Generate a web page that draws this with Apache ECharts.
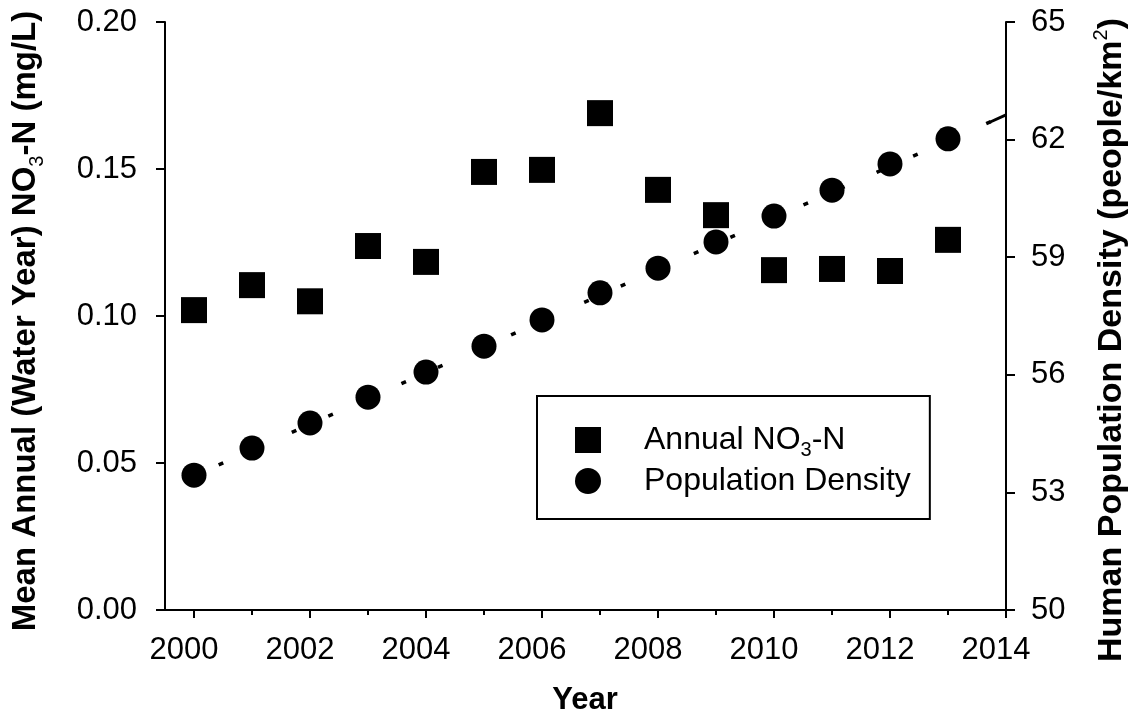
<!DOCTYPE html>
<html>
<head>
<meta charset="utf-8">
<script src="https://cdn.jsdelivr.net/npm/echarts@6/dist/echarts.min.js"></script>
<style>
  html, body { margin: 0; padding: 0; background: #fff; }
  #chart { width: 1132px; height: 725px; }
</style>
</head>
<body>
<div id="chart"></div>
<script>
// ---- Data ----
var years = [2000, 2001, 2002, 2003, 2004, 2005, 2006, 2007, 2008, 2009, 2010, 2011, 2012, 2013];
var no3Values = [0.102, 0.1105, 0.105, 0.1238, 0.1184, 0.149, 0.1497, 0.169, 0.1429, 0.1343, 0.1156, 0.116, 0.1153, 0.1259];
var popValues = [53.44, 54.13, 54.77, 55.43, 56.07, 56.73, 57.40, 58.09, 58.72, 59.39, 60.05, 60.71, 61.38, 62.02];
var trendYears = [2000, 2014];
var trendValues = [53.42, 62.63];
var trendTailYears = [2013.7, 2014];
var trendTailValues = [62.43, 62.63];
var xMajorTicks = [2000, 2002, 2004, 2006, 2008, 2010, 2012, 2014];
var xMinorTicks = [2001, 2003, 2005, 2007, 2009, 2011, 2013];
var leftTicks = [0, 0.05, 0.10, 0.15, 0.20];
var rightTicks = [50, 53, 56, 59, 62, 65];

function zip(a, b) { return a.map(function (v, i) { return [v, b[i]]; }); }

var FONT = "'Liberation Sans', Arial, Helvetica, sans-serif";
var chart = echarts.init(document.getElementById('chart'), null, { renderer: 'canvas' });

var axisLineStyle = { color: '#000', width: 2 };

var option = {
  backgroundColor: '#fff',
  animation: false,
  grid: { left: 165, right: 126, top: 22, bottom: 115, containLabel: false },
  xAxis: [
    {
      type: 'value', min: 1999.5, max: 2014, position: 'bottom',
      axisLine: { show: true, onZero: false, lineStyle: axisLineStyle },
      axisTick: { show: true, length: 8, customValues: xMajorTicks, lineStyle: axisLineStyle },
      axisLabel: { show: true, customValues: xMajorTicks, color: '#000', fontSize: 31, fontFamily: FONT, margin: 25,
        padding: [0, 20, 0, 0],
        formatter: function (v) { return String(Math.round(v)); } },
      splitLine: { show: false }
    },
    {
      type: 'value', min: 1999.5, max: 2014, position: 'bottom',
      axisLine: { show: false, onZero: false },
      axisTick: { show: true, length: 5, customValues: xMinorTicks, lineStyle: axisLineStyle },
      axisLabel: { show: false, customValues: xMinorTicks },
      splitLine: { show: false }
    }
  ],
  yAxis: [
    {
      type: 'value', min: 0, max: 0.2, interval: 0.05, position: 'left',
      axisLine: { show: true, onZero: false, lineStyle: axisLineStyle },
      axisTick: { show: true, length: 9, lineStyle: axisLineStyle },
      axisLabel: { color: '#000', fontSize: 31, fontFamily: FONT, margin: 28,
        formatter: function (v) { return v.toFixed(2); } },
      splitLine: { show: false }
    },
    {
      type: 'value', min: 50, max: 65, interval: 3, position: 'right',
      axisLine: { show: true, onZero: false, lineStyle: axisLineStyle },
      axisTick: { show: true, length: 9, lineStyle: axisLineStyle },
      axisLabel: { color: '#000', fontSize: 31, fontFamily: FONT, margin: 25,
        formatter: function (v) { return String(Math.round(v)); } },
      splitLine: { show: false }
    }
  ],
  legend: {
    orient: 'vertical',
    left: 537, top: 396,
    padding: [28, 19, 22, 38],
    itemGap: 5,
    itemWidth: 26, itemHeight: 26,
    borderColor: '#000', borderWidth: 2, borderRadius: 0,
    backgroundColor: '#fff',
    selectedMode: false,
    data: [
      { name: 'Annual NO3-N', icon: 'rect', itemStyle: { color: '#000', opacity: 1 } },
      { name: 'Population Density', icon: 'circle', itemStyle: { color: '#000', opacity: 1 } }
    ],
    formatter: function (name) {
      if (name === 'Annual NO3-N') return '{sp| }{a|Annual NO}{s|3}{a|-N}';
      return '{sp| }{a|Population Density}';
    },
    textStyle: {
      color: '#000', fontFamily: FONT, fontSize: 32,
      rich: {
        sp: { width: 38, fontSize: 32, lineHeight: 40 },
        a: { fontSize: 32, fontFamily: FONT, color: '#000', lineHeight: 40 },
        s: { fontSize: 20, fontFamily: FONT, color: '#000', lineHeight: 14, verticalAlign: 'bottom' }
      }
    },
    z: 10
  },
  graphic: [
    {
      type: 'text', x: 26, y: 321, rotation: Math.PI / 2,
      style: {
        text: '{b|Mean Annual (Water Year) NO}{s|3}{b|-N (mg/L)}',
        align: 'center', verticalAlign: 'middle',
        rich: {
          b: { fontSize: 33, fontWeight: 'bold', fontFamily: FONT, fill: '#000', lineHeight: 42 },
          s: { fontSize: 20, fontFamily: FONT, fill: '#000', lineHeight: 12, verticalAlign: 'bottom' }
        }
      }
    },
    {
      type: 'text', x: 1112, y: 340, rotation: Math.PI / 2,
      style: {
        text: '{b|Human Population Density (people/km}{p|2}{b|)}',
        align: 'center', verticalAlign: 'middle',
        rich: {
          b: { fontSize: 34, fontWeight: 'bold', fontFamily: FONT, fill: '#000', lineHeight: 42 },
          p: { fontSize: 20, fontFamily: FONT, fill: '#000', lineHeight: 16, verticalAlign: 'top' }
        }
      }
    },
    {
      type: 'text', x: 585, y: 700,
      style: {
        text: 'Year', align: 'center', verticalAlign: 'middle',
        fontSize: 31, fontWeight: 'bold', fontFamily: FONT, fill: '#000'
      }
    }
  ],
  series: [
    {
      name: 'Trend', type: 'line', xAxisIndex: 0, yAxisIndex: 1,
      data: zip(trendYears, trendValues), showSymbol: false, silent: true,
      lineStyle: { color: '#000', width: 3.5, type: [5, 35], dashOffset: 13 },
      z: 1
    },
    {
      name: 'TrendTail', type: 'line', xAxisIndex: 0, yAxisIndex: 1,
      data: zip(trendTailYears, trendTailValues), showSymbol: false, silent: true,
      lineStyle: { color: '#000', width: 3 },
      z: 1
    },
    {
      name: 'Annual NO3-N', type: 'scatter', xAxisIndex: 0, yAxisIndex: 0,
      symbol: 'rect', symbolSize: 26,
      itemStyle: { color: '#000', opacity: 1 },
      data: zip(years, no3Values), z: 3
    },
    {
      name: 'Population Density', type: 'scatter', xAxisIndex: 0, yAxisIndex: 1,
      symbol: 'circle', symbolSize: 25,
      itemStyle: { color: '#000', opacity: 1 },
      data: zip(years, popValues), z: 3
    }
  ]
};
chart.setOption(option);
</script>
</body>
</html>
